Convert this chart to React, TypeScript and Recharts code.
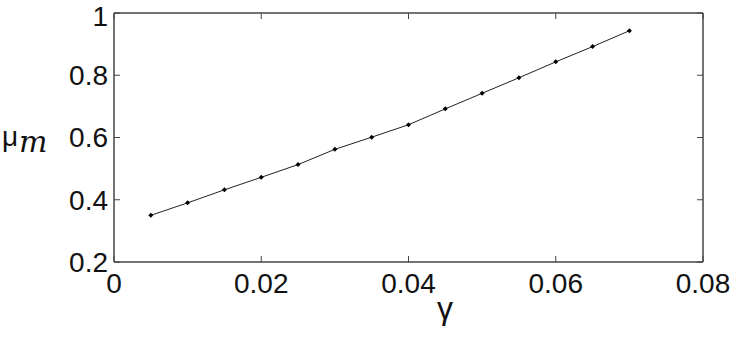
import React from "react";
import { LineChart, Line, XAxis, YAxis } from "recharts";

const gammaValues = [0.005, 0.01, 0.015, 0.02, 0.025, 0.03, 0.035, 0.04, 0.045, 0.05, 0.055, 0.06, 0.065, 0.07];
const muValues = [0.35, 0.39, 0.432, 0.472, 0.513, 0.562, 0.601, 0.641, 0.692, 0.742, 0.792, 0.843, 0.892, 0.943];
const xTicks = [0, 0.02, 0.04, 0.06, 0.08];
const yTicks = [0.2, 0.4, 0.6, 0.8, 1];

const data = gammaValues.map((g, i) => ({ g, mu: muValues[i] }));

const FONT = "'Liberation Sans', Arial, sans-serif";
const AXIS_COLOR = "#444";
const TEXT_COLOR = "#111";

const Diamond = (props: any) => {
  const { cx, cy } = props;
  if (cx == null || cy == null) return null;
  const s = 2.5;
  return (
    <path
      d={`M${cx},${cy - s}L${cx + s},${cy}L${cx},${cy + s}L${cx - s},${cy}Z`}
      fill="#000"
      stroke="none"
    />
  );
};

export default function App() {
  return (
    <div style={{ position: "absolute", left: 0, top: 0, width: 734, height: 338, background: "#fff" }}>
      <LineChart
        width={734}
        height={338}
        data={data}
        margin={{ top: 12, right: 30, bottom: 75, left: 113 }}
      >
        <XAxis
          xAxisId="bottom"
          dataKey="g"
          type="number"
          domain={[0, 0.08]}
          ticks={xTicks}
          orientation="bottom"
          height={1}
          tickSize={-6}
          tickMargin={17}
          axisLine={{ stroke: AXIS_COLOR, strokeWidth: 1.5 }}
          tickLine={{ stroke: AXIS_COLOR, strokeWidth: 1 }}
          tick={{ fill: TEXT_COLOR, fontSize: 28, fontFamily: FONT }}
          tickFormatter={(v: number) => String(v)}
          allowDataOverflow
          label={{
            content: () => (
              <text x={445} y={319} textAnchor="middle" fontSize={32} fontFamily={FONT} fill={TEXT_COLOR}>
                γ
              </text>
            ),
          }}
        />
        <XAxis
          xAxisId="top"
          dataKey="g"
          type="number"
          domain={[0, 0.08]}
          ticks={xTicks}
          orientation="top"
          height={1}
          tickSize={-6}
          tickMargin={0}
          axisLine={{ stroke: AXIS_COLOR, strokeWidth: 1.5 }}
          tickLine={{ stroke: AXIS_COLOR, strokeWidth: 1 }}
          tickFormatter={() => ""}
          allowDataOverflow
        />
        <YAxis
          yAxisId="left"
          type="number"
          domain={[0.2, 1]}
          ticks={yTicks}
          orientation="left"
          width={1}
          tickSize={-6}
          tickMargin={12}
          axisLine={{ stroke: AXIS_COLOR, strokeWidth: 1.5 }}
          tickLine={{ stroke: AXIS_COLOR, strokeWidth: 1 }}
          tick={{ fill: TEXT_COLOR, fontSize: 28, fontFamily: FONT }}
          tickFormatter={(v: number) => String(v)}
          allowDataOverflow
          label={{
            content: () => (
              <g>
                <text x={2} y={146} fontSize={28} fontFamily={FONT} fill={TEXT_COLOR}>
                  μ
                </text>
                <text x={19} y={152} fontSize={30} fontStyle="italic" fontFamily="'DejaVu Serif', serif" fill={TEXT_COLOR}>
                  m
                </text>
              </g>
            ),
          }}
        />
        <YAxis
          yAxisId="right"
          type="number"
          domain={[0.2, 1]}
          ticks={yTicks}
          orientation="right"
          width={1}
          tickSize={-6}
          tickMargin={0}
          axisLine={{ stroke: AXIS_COLOR, strokeWidth: 1.5 }}
          tickLine={{ stroke: AXIS_COLOR, strokeWidth: 1 }}
          tickFormatter={() => ""}
          allowDataOverflow
        />
        <Line
          xAxisId="bottom"
          yAxisId="left"
          type="linear"
          dataKey="mu"
          stroke="#222"
          strokeWidth={1}
          dot={<Diamond />}
          activeDot={false}
          isAnimationActive={false}
        />
      </LineChart>
    </div>
  );
}
